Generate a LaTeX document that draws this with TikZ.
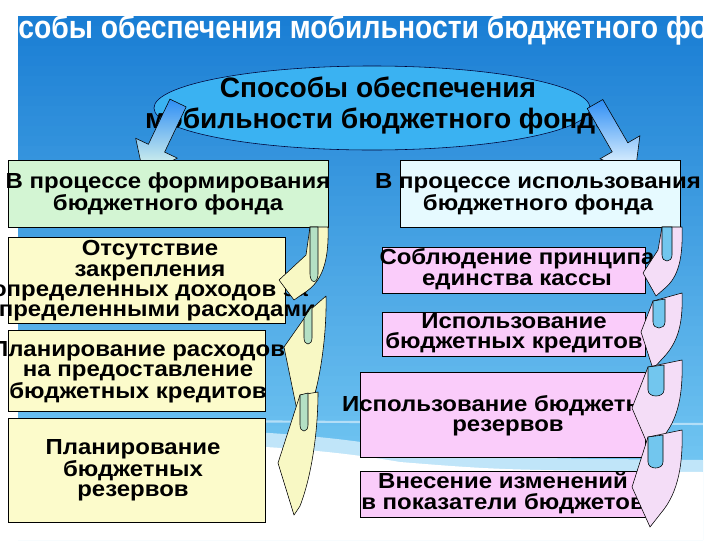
\documentclass[tikz,border=0pt]{standalone}
\usepackage{fontspec}
\setmainfont{Liberation Sans}
\newfontfamily\boxfont{Liberation Sans}[FakeStretch=1.1]
\newfontfamily\titlefont{Liberation Sans}[FakeStretch=0.875]
\usetikzlibrary{shapes.geometric}

\definecolor{panelTop}{HTML}{1A7ED4}
\definecolor{panelBot}{HTML}{72C6F2}
\definecolor{ovalFill}{HTML}{3AB2F2}
\definecolor{greenFill}{HTML}{D3F5D3}
\definecolor{yellowFill}{HTML}{FCFBCB}
\definecolor{pinkFill}{HTML}{FACCFA}
\definecolor{cyanFill}{HTML}{E6FAFF}
\definecolor{yellowArrow}{HTML}{F8F8C4}
\definecolor{pinkArrow}{HTML}{F4DDF7}
\definecolor{tabBlue}{HTML}{72C6EE}
\definecolor{tabGreen}{HTML}{B4E0C4}

\tikzset{
  box/.style={draw=black, line width=0.5pt, inner sep=0pt},
  boxtext/.style={font=\boxfont\fontsize{15.5}{14.5}\selectfont\bfseries, align=center, inner sep=0pt},
  curvL/.style={fill=yellowArrow, draw=black, line width=0.4pt, line join=round},
  curvR/.style={fill=pinkArrow, draw=black, line width=0.4pt, line join=round},
  tabL/.style={fill=tabGreen, draw=black, line width=0.4pt},
  tabR/.style={fill=tabBlue, draw=black, line width=0.4pt},
}

\begin{document}
\begin{tikzpicture}[x=0.025cm,y=-0.025cm]

\useasboundingbox (0,0) rectangle (720,540);

% background
\fill[panelBot] (18,16) rectangle (703,540);
\foreach \i in {0,...,45} {
  \pgfmathsetmacro\mixval{100-\i*100/45}
  \fill[panelTop!\mixval!panelBot] (18,16+\i*10) rectangle (703,27+\i*10);
}
\fill[panelBot!45!white]
  (18,424) .. controls (250,428) and (330,436) .. (400,448) .. controls (500,458) .. (703,460)
  -- (703,540) -- (18,540) -- cycle;
\fill[white]
  (18,440) .. controls (250,442) and (330,450) .. (400,462) .. controls (500,470) .. (703,472)
  -- (703,540) -- (18,540) -- cycle;
\draw[white, opacity=0.5, line width=1.5pt] (18,420) -- (703,424);

\node[anchor=base west, inner sep=0pt, font=\titlefont\fontsize{23}{26}\selectfont\bfseries, text=white]
  (title) at (18,38) {\llap{Спо}собы обеспечения мобильности бюджетного фонда};

% oval
\node[ellipse, draw=black!80!blue, line width=0.4pt, fill=ovalFill,
  minimum width=10.9cm, minimum height=2.1cm] (oval) at (372,108) {};
\node[font=\fontsize{20}{22}\selectfont\bfseries, align=center] (ovaltext) at (378,106)
  {Способы обеспечения\\мобильности бюджетного фонда};

% arrows from the oval
\shade[top color=ovalFill!80!blue, bottom color=green!8, draw=black, line width=0.4pt]
  (169.9,99.1) -- (186.1,106.9) -- (164.6,152.1) -- (177.3,158.1) -- (143.6,175.2)
  -- (135.7,138.3) -- (148.4,144.3) -- cycle;
\shade[top color=ovalFill!80!blue, bottom color=cyanFill!40, draw=black, line width=0.4pt]
  (602.8,99.5) -- (627.8,142.8) -- (639.9,135.8) -- (635,173.3) -- (600.1,158.8)
  -- (612.2,151.8) -- (587.2,108.5) -- cycle;

% left column
\node[box, fill=greenFill, minimum width=8cm, minimum height=1.675cm] (form) at (168,193.5) {};
\node[boxtext] at (168,194) {В процессе формирования\\бюджетного фонда};

\node[box, fill=yellowFill, minimum width=6.925cm, minimum height=2.15cm] (zakr) at (146.5,280) {};
\node[boxtext] at (150,281) {Отсутствие\\закрепления\\определенных доходов за\\определенными расходами};

\node[box, fill=yellowFill, minimum width=6.425cm, minimum height=2.025cm] (plkred) at (136.5,370.5) {};
\node[boxtext] at (138,372) {Планирование расходов\\на предоставление\\бюджетных кредитов};

\node[box, fill=yellowFill, minimum width=6.425cm, minimum height=2.6cm] (plrez) at (136.5,470) {};
\node[boxtext] at (133,470) {Планирование\\бюджетных\\резервов};

% right column
\node[box, fill=cyanFill, minimum width=7cm, minimum height=1.675cm] (isp) at (540,193.5) {};
\node[boxtext] at (538,194) {В процессе использования\\бюджетного фонда};

\node[box, fill=pinkFill, minimum width=6.575cm, minimum height=1.15cm] (kassa) at (513.5,270) {};
\node[boxtext] at (517,269) {Соблюдение принципа\\единства кассы};

\node[box, fill=pinkFill, minimum width=6.575cm, minimum height=1.1cm] (ispkred) at (513.5,334) {};
\node[boxtext] at (514,333) {Использование\\бюджетных кредитов};

\node[box, fill=pinkFill, minimum width=7.125cm, minimum height=2.125cm] (isprez) at (502.5,414.5) {};
\node[boxtext] at (508,416) {Использование бюджетных\\резервов};

\node[box, fill=pinkFill, minimum width=7.125cm, minimum height=1.15cm] (vnes) at (502.5,494) {};
\node[boxtext] at (503,493) {Внесение изменений\\в показатели бюджетов};

% curved arrows, left
\filldraw[curvL] (310,227) -- (306,255) -- (279,280) -- (294,300) -- (304,293)
  .. controls (322,282) and (329,262) .. (328,227) -- cycle;
\filldraw[tabL] (310,227) -- (310,274) .. controls (310,284) and (318,284) .. (318,274) -- (318,227) -- cycle;
\filldraw[curvL] (310,310) -- (284,347) -- (300,425) -- (307,415)
  .. controls (318,395) and (327,340) .. (326,296) -- cycle;
\filldraw[tabL] (304,318) -- (304,338) .. controls (304,346) and (312,346) .. (312,338) -- (312,306) -- cycle;
\filldraw[curvL] (300,395) -- (278,463) -- (294,515) -- (300,506)
  .. controls (312,475) and (318,430) .. (318,392) -- cycle;
\filldraw[tabL] (300,395) -- (300,425) .. controls (300,433) and (308,433) .. (308,425) -- (308,393) -- cycle;

% curved arrows, right
\filldraw[curvR] (662,227) -- (658,250) -- (643,273) -- (656,296) -- (664,289)
  .. controls (679,277) and (683,257) .. (682,227) -- cycle;
\filldraw[tabR] (662,227) -- (662,255) .. controls (662,263) and (672,263) .. (672,255) -- (672,227) -- cycle;
\filldraw[curvR] (653,301) -- (641,332) -- (653,369) -- (662,359)
  .. controls (679,342) and (683,322) .. (682,293) -- cycle;
\filldraw[tabR] (653,301) -- (653,322) .. controls (653,330) and (665,330) .. (665,322) -- (665,299) -- cycle;
\filldraw[curvR] (648,367) -- (632,408) -- (650,450) -- (661,439)
  .. controls (679,420) and (683,392) .. (682,360) -- cycle;
\filldraw[tabR] (648,367) -- (648,390) .. controls (648,398) and (664,398) .. (664,390) -- (664,365) -- cycle;
\filldraw[curvR] (648,437) -- (632,487) -- (650,527) -- (661,513)
  .. controls (679,492) and (683,462) .. (682,430) -- cycle;
\filldraw[tabR] (648,437) -- (648,462) .. controls (648,470) and (663,470) .. (663,462) -- (663,435) -- cycle;

\end{tikzpicture}
\end{document}
